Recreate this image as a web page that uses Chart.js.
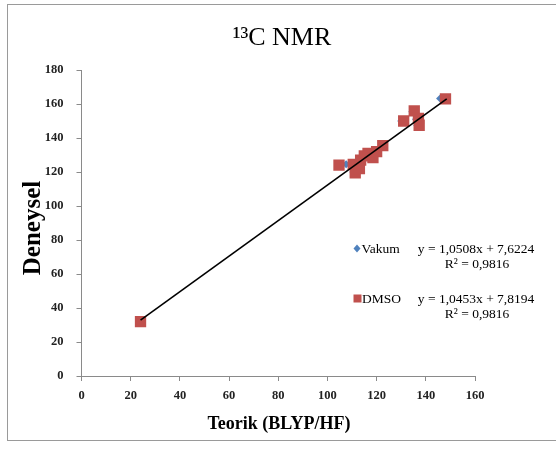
<!DOCTYPE html>
<html>
<head>
<meta charset="utf-8">
<script src="https://cdn.jsdelivr.net/npm/chart.js@4"></script>
<style>
  html, body { margin: 0; padding: 0; background: #fff; }
  #wrap { width: 556px; height: 459px; }
</style>
</head>
<body>
<div id="wrap"><canvas id="myChart" width="556" height="459"></canvas></div>
<script>
// values
const xTicks = [0, 20, 40, 60, 80, 100, 120, 140, 160];
const yTicks = [0, 20, 40, 60, 80, 100, 120, 140, 160, 180];

const dmsoX = [24, 104.7, 110.5, 111.3, 113, 113.5, 115, 116.5, 118.5, 120, 122.5, 131, 135.3, 137, 137.3, 148];
const dmsoY = [32, 124, 124.5, 119.5, 122, 127, 129.5, 131, 128.5, 132, 135.5, 150, 156, 151.5, 147.5, 163];

const vakumX = [23.5, 107.6, 109.5, 110.5, 112, 113, 114.5, 116, 117.5, 119.5, 122, 130, 134.5, 136, 136.5, 145.8];
const vakumY = [32, 124.5, 124, 120, 122, 126.5, 129, 131, 129, 132, 135, 150, 155.5, 151, 147.5, 163.3];

// trend line end points
const trendX = [24, 148.5];
const trendY = [32.9, 163];

const seriesNames = ["Vakum", "DMSO"];
const equations = ["y = 1,0508x + 7,6224", "y = 1,0453x + 7,8194"];
const rSquared = ["R² = 0,9816", "R² = 0,9816"];

const chartTitle = "¹³C NMR";
const xTitle = "Teorik (BLYP/HF)";
const yTitle = "Deneysel";

const blue = "#4F81BD";
const red = "#C0504D";
const axisGrey = "#8a8a8a";

const toPoints = (xs, ys) => xs.map((x, i) => ({ x: x, y: ys[i] }));

// frame, titles and the legend with trendline labels
const frameAndText = {
  id: "frameAndText",
  beforeDraw(chart) {
    const ctx = chart.ctx;
    ctx.save();
    ctx.fillStyle = "#fff";
    ctx.fillRect(0, 0, chart.width, chart.height);
    ctx.strokeStyle = "#9a9a9a";
    ctx.lineWidth = 1;
    ctx.strokeRect(7.5, 4.5, 560, 436);
    ctx.restore();
  },
  afterDraw(chart) {
    const ctx = chart.ctx;
    ctx.save();
    ctx.fillStyle = "#000";

    // titles
    ctx.textAlign = "center";
    ctx.textBaseline = "alphabetic";
    ctx.font = "26px 'Liberation Serif'";
    ctx.fillText(chartTitle, 282, 45);

    ctx.textBaseline = "middle";
    ctx.font = "bold 18px 'Liberation Serif'";
    ctx.fillText(xTitle, 279, 424);

    ctx.save();
    ctx.translate(40, 228);
    ctx.rotate(-Math.PI / 2);
    ctx.textBaseline = "alphabetic";
    ctx.font = "bold 25px 'Liberation Serif'";
    ctx.fillText(yTitle, 0, 0);
    ctx.restore();

    // legend
    ctx.font = "13.5px 'Liberation Serif'";
    ctx.textBaseline = "alphabetic";

    ctx.fillStyle = blue;
    ctx.beginPath();
    ctx.moveTo(357, 244.5);
    ctx.lineTo(360.5, 248.5);
    ctx.lineTo(357, 252.5);
    ctx.lineTo(353.5, 248.5);
    ctx.closePath();
    ctx.fill();
    ctx.fillStyle = "#000";
    ctx.textAlign = "left";
    ctx.fillText(seriesNames[0], 361.5, 253);
    ctx.textAlign = "center";
    ctx.fillText(equations[0], 476, 253);
    ctx.fillText(rSquared[0], 477, 268);

    ctx.fillStyle = red;
    ctx.fillRect(353.5, 294.5, 8, 8);
    ctx.fillStyle = "#000";
    ctx.textAlign = "left";
    ctx.fillText(seriesNames[1], 362, 303);
    ctx.textAlign = "center";
    ctx.fillText(equations[1], 476, 303);
    ctx.fillText(rSquared[1], 477, 318);
    ctx.restore();
  }
};

const ctx = document.getElementById("myChart").getContext("2d");
window.myChart = new Chart(ctx, {
  type: "scatter",
  data: {
    datasets: [
      {
        type: "line",
        label: "trend",
        data: toPoints(trendX, trendY),
        borderColor: "#000",
        borderWidth: 1.6,
        pointRadius: 0,
        fill: false,
      },
      {
        label: seriesNames[1],
        data: toPoints(dmsoX, dmsoY),
        pointStyle: "rect",
        pointRadius: 8,
        backgroundColor: red,
        borderColor: red,
        borderWidth: 0,
      },
      {
        label: seriesNames[0],
        data: toPoints(vakumX, vakumY),
        pointStyle: "rectRot",
        pointRadius: 4,
        backgroundColor: blue,
        borderColor: blue,
        borderWidth: 0,
      },
    ],
  },
  options: {
    responsive: false,
    animation: false,
    layout: { padding: { left: 0, right: 81, top: 70, bottom: 43 } },
    plugins: {
      legend: { display: false },
      tooltip: { enabled: false },
      title: { display: false },
    },
    scales: {
      x: {
        type: "linear",
        min: 0,
        max: 160,
        afterBuildTicks: (scale) => {
          scale.ticks = xTicks.map((v) => ({ value: v }));
        },
        afterFit: (scale) => {
          scale.height = 40;
        },
        grid: {
          drawOnChartArea: false,
          drawTicks: true,
          tickLength: 5,
          color: axisGrey,
        },
        border: { color: axisGrey, width: 1 },
        ticks: {
          color: "#222",
          padding: 7,
          maxRotation: 0,
          font: { family: "'Liberation Sans Narrow'", size: 12.5, weight: "bold" },
        },
      },
      y: {
        type: "linear",
        min: 0,
        max: 180,
        afterBuildTicks: (scale) => {
          scale.ticks = yTicks.map((v) => ({ value: v }));
        },
        afterFit: (scale) => {
          scale.width = 81.5;
        },
        grid: {
          drawOnChartArea: false,
          drawTicks: true,
          tickLength: 5,
          color: axisGrey,
        },
        border: { color: axisGrey, width: 1 },
        ticks: {
          color: "#222",
          padding: 13,
          font: { family: "'Liberation Sans Narrow'", size: 12.5, weight: "bold" },
        },
      },
    },
  },
  plugins: [frameAndText],
});
</script>
</body>
</html>
